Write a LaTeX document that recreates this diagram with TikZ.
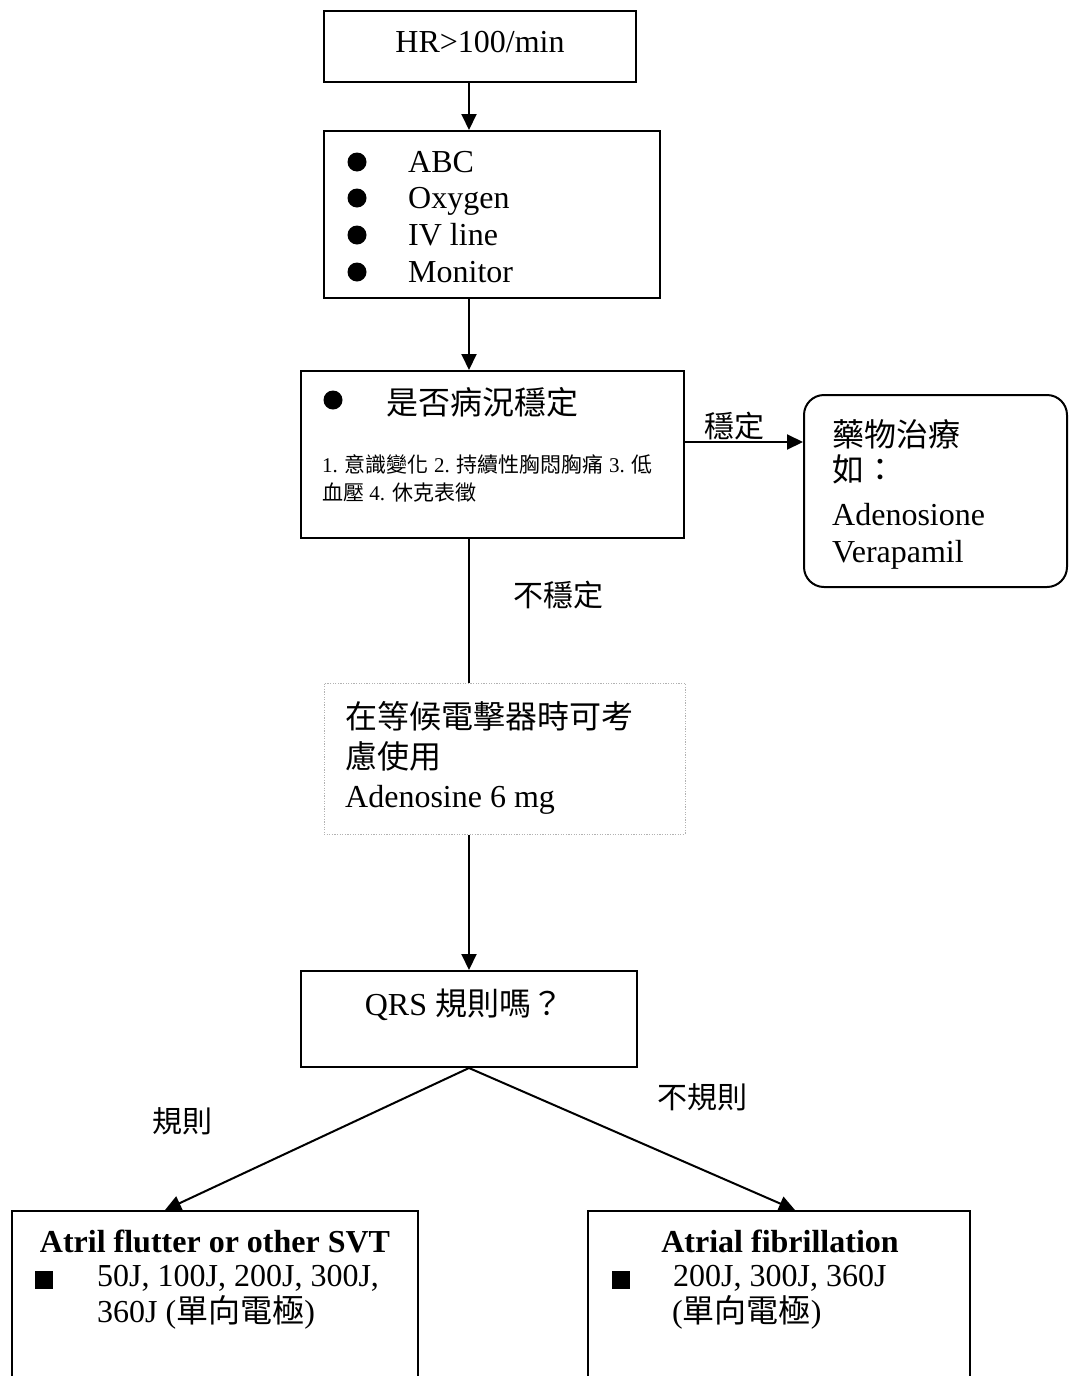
\documentclass[tikz,border=0pt]{standalone}
\usepackage{fontspec}
\setmainfont{Liberation Serif}
\newfontfamily\cjk{Noto Sans CJK TC}
\usetikzlibrary{arrows.meta}
\begin{document}
\begin{tikzpicture}[x=1pt,y=-1pt,
  box/.style={draw,line width=2pt,inner sep=0pt,rectangle},
  dotbox/.style={draw=black!30,line width=1pt,dash pattern=on 1.2pt off 1.4pt,inner sep=0pt,rectangle},
  arr/.style={line width=2pt,-{Triangle[length=16pt,width=15pt]}},
  conn/.style={line width=2pt},
  big/.style={font=\fontsize{32}{38}\selectfont,inner sep=0pt},
  bigb/.style={font=\fontsize{32}{38}\selectfont\bfseries,inner sep=0pt},
  sml/.style={font=\fontsize{21}{26}\selectfont,inner sep=0pt},
  lbl/.style={font=\fontsize{30}{36}\selectfont\cjk,inner sep=0pt},
  dot/.style={circle,fill,inner sep=0pt,minimum size=19pt},
  sq/.style={rectangle,fill,inner sep=0pt,minimum size=18pt}]
\useasboundingbox (0,0) rectangle (1069,1376);
\clip (0,0) rectangle (1069,1376);
\fill[white] (0,0) rectangle (1069,1376);
% boxes
\node[box,minimum width=312pt,minimum height=71pt] (b1) at (480,46.5) {};
\node[box,minimum width=336pt,minimum height=167pt] (b2) at (492,214.5) {};
\node[box,minimum width=383pt,minimum height=167pt] (b3) at (492.5,454.5) {};
\node[box,rounded corners=20pt,minimum width=263pt,minimum height=192pt] (b4) at (935.5,491) {};
\node[dotbox,minimum width=361pt,minimum height=151pt] (b5) at (504.5,758.5) {};
\node[box,minimum width=336pt,minimum height=96pt] (b6) at (469,1019) {};
\node[box,minimum width=406pt,minimum height=189pt] (b7) at (215,1305.5) {};
\node[box,minimum width=382pt,minimum height=189pt] (b8) at (779,1305.5) {};
% texts
\node[big,anchor=base] (t1) at (480,52) {HR>100/min};
\node[dot] (d1) at (357,162) {};
\node[dot] (d2) at (357,198) {};
\node[dot] (d3) at (357,235) {};
\node[dot] (d4) at (357,272) {};
\node[big,anchor=base west] (t2a) at (408,172) {ABC};
\node[big,anchor=base west] (t2b) at (408,208) {Oxygen};
\node[big,anchor=base west] (t2c) at (408,245) {IV line};
\node[big,anchor=base west] (t2d) at (408,282) {Monitor};
\node[dot] (d5) at (333,400) {};
\node[big,anchor=base west] (t3a) at (386,414) {\cjk 是否病況穩定};
\node[sml,anchor=base west] (t3b) at (322,472) {1. {\cjk 意識變化} 2. {\cjk 持續性胸悶胸痛} 3. {\cjk 低}};
\node[sml,anchor=base west] (t3c) at (322,500) {{\cjk 血壓} 4. {\cjk 休克表徵}};
\node[big,anchor=base west] (t4a) at (832,446) {\cjk 藥物治療};
\node[big,anchor=base west] (t4b) at (832,481) {\cjk 如：};
\node[big,anchor=base west] (t4c) at (832,525) {Adenosione};
\node[big,anchor=base west] (t4d) at (832,562) {Verapamil};
\node[big,anchor=base west] (t5a) at (345,728) {\cjk 在等候電擊器時可考};
\node[big,anchor=base west] (t5b) at (345,768) {\cjk 慮使用};
\node[big,anchor=base west] (t5c) at (345,807) {Adenosine 6 mg};
\node[big,anchor=base] (t6) at (464,1015) {QRS {\cjk 規則嗎？}};
\node[bigb,anchor=base] (t7) at (215,1252) {Atril flutter or other SVT};
\node[sq] (s7) at (44,1280) {};
\node[big,anchor=base west] (t7a) at (97,1286) {50J, 100J, 200J, 300J,};
\node[big,anchor=base west] (t7b) at (97,1322) {360J ({\cjk 單向電極})};
\node[bigb,anchor=base] (t8) at (780,1252) {Atrial fibrillation};
\node[sq] (s8) at (621,1280) {};
\node[big,anchor=base west] (t8a) at (673,1286) {200J, 300J, 360J};
\node[big,anchor=base west] (t8b) at (672,1322) {({\cjk 單向電極})};
% labels
\node[lbl,anchor=base west] (l1) at (704,437) {穩定};
\node[lbl,anchor=base west] (l2) at (513,606) {不穩定};
\node[lbl,anchor=base west] (l3) at (152,1132) {規則};
\node[lbl,anchor=base west] (l4) at (657,1108) {不規則};
% connectors
\draw[arr] (b1.south -| b6.center) -- (b2.north -| b6.center);
\draw[arr] (b2.south -| b6.center) -- (b3.north -| b6.center);
\draw[arr] ([yshift=12.5pt]b3.east) -- ([yshift=12.5pt]b3.east -| b4.west);
\draw[conn] (b3.south -| b6.center) -- (b5.north -| b6.center);
\draw[arr] (b5.south -| b6.center) -- (b6.north);
\draw[arr] (b6.south) -- ([xshift=-50pt]b7.north);
\draw[arr] (b6.south) -- ([xshift=16pt]b8.north);
\end{tikzpicture}
\end{document}
